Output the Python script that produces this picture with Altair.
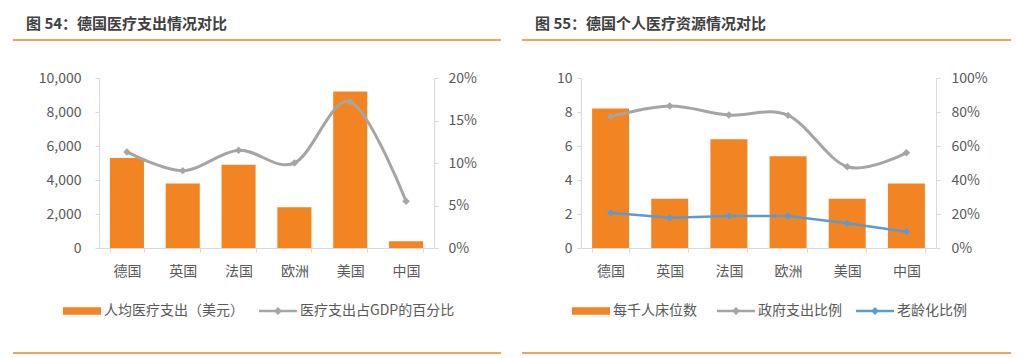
import altair as alt
import pandas as pd

FONT = "Noto Sans CJK SC"

# ---------------- data ----------------
categories = ["德国", "英国", "法国", "欧洲", "美国", "中国"]

# left panel
spend_per_capita = [5300, 3800, 4900, 2400, 9200, 400]
spend_gdp_pct = [0.113, 0.091, 0.115, 0.100, 0.172, 0.055]
left_title = "图 54：德国医疗支出情况对比"
left_bar_label = "人均医疗支出（美元）"
left_line_label = "医疗支出占GDP的百分比"
left_y_ticks = [0, 2000, 4000, 6000, 8000, 10000]
left_y2_ticks = [0, 0.05, 0.10, 0.15, 0.20]

# right panel
beds_per_1000 = [8.2, 2.9, 6.4, 5.4, 2.9, 3.8]
gov_share = [0.773, 0.835, 0.782, 0.78, 0.478, 0.56]
aging_share = [0.208, 0.178, 0.188, 0.188, 0.145, 0.096]
right_title = "图 55：德国个人医疗资源情况对比"
right_bar_label = "每千人床位数"
right_line_labels = ["政府支出比例", "老龄化比例"]
right_y_ticks = [0, 2, 4, 6, 8, 10]
right_y2_ticks = [0, 0.2, 0.4, 0.6, 0.8, 1.0]

# ---------------- style ----------------
ORANGE = "#F28522"
RULE_ORANGE = "#F08326"
GRAY = "#A5A5A5"
BLUE = "#5B9BD5"
AXIS_GRAY = "#D9D9D9"
TEXT_GRAY = "#595959"
TITLE_GRAY = "#404040"
BAR_SYMBOL = "M-1,-0.2H1V0.2H-1Z"
LINE_SYMBOL = "M-1,-0.07H1V0.07H-1Z M0,-0.21L0.21,0L0,0.21L-0.21,0Z"

H = 170


def x_axis():
    return alt.Axis(title=None, labelAngle=0, domainColor=AXIS_GRAY, tickColor=AXIS_GRAY,
                    tickSize=4, tickBand="extent", labelFont=FONT, labelFontSize=14,
                    labelColor=TEXT_GRAY, labelPadding=12)


def y_axis(values, fmt, orient, pad):
    return alt.Axis(title=None, values=values, format=fmt, orient=orient, grid=False,
                    domainColor=AXIS_GRAY, tickColor=AXIS_GRAY, tickSize=4,
                    labelFont=FONT, labelFontSize=14, labelColor=TEXT_GRAY, labelPadding=pad)


def legend(x, y, symbol, columns_pad=14):
    return alt.Legend(title=None, orient="none", legendX=x, legendY=y, direction="horizontal",
                      symbolType=symbol, symbolSize=1444, symbolStrokeWidth=0,
                      labelFont=FONT, labelFontSize=14, labelColor=TEXT_GRAY,
                      labelOffset=3, padding=0, columnPadding=columns_pad)


def frame_layers(title, x0, x1, title_dx):
    one = pd.DataFrame({"k": [0]})
    top = alt.Chart(one).mark_rule(color=RULE_ORANGE, strokeWidth=1.5).encode(
        x=alt.value(x0), x2=alt.value(x1), y=alt.value(-38))
    bottom = alt.Chart(one).mark_rule(color=RULE_ORANGE, strokeWidth=1.5).encode(
        x=alt.value(x0), x2=alt.value(x1), y=alt.value(275))
    ttl = alt.Chart(one).mark_text(text=title, align="left", baseline="middle", font=FONT,
                                   fontSize=15, fontWeight="bold", color=TITLE_GRAY).encode(
        x=alt.value(title_dx), y=alt.value(-54))
    return [top, bottom, ttl]


# ---------------- left panel ----------------
df_left = pd.DataFrame({"category": categories, "spend": spend_per_capita,
                        left_line_label: spend_gdp_pct})
base_l = alt.Chart(df_left)
xl = alt.X("category:N", sort=categories, axis=x_axis(),
           scale=alt.Scale(paddingInner=0.39, paddingOuter=0.195))

bars_l = base_l.transform_calculate(series=f"'{left_bar_label}'").mark_bar(color=ORANGE).encode(
    x=xl,
    y=alt.Y("spend:Q", scale=alt.Scale(domain=[0, 10000]),
            axis=y_axis(left_y_ticks, ",.0f", "left", 14)),
    color=alt.Color("series:N", scale=alt.Scale(domain=[left_bar_label], range=[ORANGE]),
                    legend=legend(-36, 214, BAR_SYMBOL)),
)
line_l = base_l.mark_line(color=GRAY, strokeWidth=3, interpolate="cardinal").encode(
    x=xl,
    y=alt.Y(f"{left_line_label}:Q", scale=alt.Scale(domain=[0, 0.2]),
            axis=y_axis(left_y2_ticks, ".0%", "right", 10)),
)
pts_l = base_l.transform_fold([left_line_label], as_=["series", "value"]).mark_point(
    shape="diamond", filled=True, size=55, opacity=1).encode(
    x=xl,
    y=alt.Y("value:Q", scale=alt.Scale(domain=[0, 0.2]), axis=None),
    color=alt.Color("series:N", scale=alt.Scale(domain=[left_line_label], range=[GRAY]),
                    legend=legend(160, 214, LINE_SYMBOL)),
)
left = alt.layer(*frame_layers(left_title, -86, 402, -73), bars_l, line_l, pts_l).resolve_scale(
    y="independent", color="independent").properties(width=335, height=H)

# ---------------- right panel ----------------
df_right = pd.DataFrame({"category": categories, "beds": beds_per_1000,
                         right_line_labels[0]: gov_share, right_line_labels[1]: aging_share})
base_r = alt.Chart(df_right)
xr = alt.X("category:N", sort=categories, axis=x_axis(),
           scale=alt.Scale(paddingInner=0.375, paddingOuter=0.1875))

bars_r = base_r.transform_calculate(series=f"'{right_bar_label}'").mark_bar(color=ORANGE).encode(
    x=xr,
    y=alt.Y("beds:Q", scale=alt.Scale(domain=[0, 10]),
            axis=y_axis(right_y_ticks, "d", "left", 5)),
    color=alt.Color("series:N", scale=alt.Scale(domain=[right_bar_label], range=[ORANGE]),
                    legend=legend(-9, 214, BAR_SYMBOL)),
)
line_gov = base_r.mark_line(color=GRAY, strokeWidth=3, interpolate="cardinal").encode(
    x=xr,
    y=alt.Y(f"{right_line_labels[0]}:Q", scale=alt.Scale(domain=[0, 1]),
            axis=y_axis(right_y2_ticks, ".0%", "right", 11)),
)
line_age = base_r.mark_line(color=BLUE, strokeWidth=2.5).encode(
    x=xr,
    y=alt.Y(f"{right_line_labels[1]}:Q", scale=alt.Scale(domain=[0, 1]), axis=None),
)
pts_r = base_r.transform_fold(right_line_labels, as_=["series", "value"]).mark_point(
    shape="diamond", filled=True, size=55, opacity=1).encode(
    x=xr,
    y=alt.Y("value:Q", scale=alt.Scale(domain=[0, 1]), axis=None),
    color=alt.Color("series:N", scale=alt.Scale(domain=right_line_labels, range=[GRAY, BLUE]),
                    legend=legend(136, 214, LINE_SYMBOL, 14)),
)
right = alt.layer(*frame_layers(right_title, -59, 430, -46), bars_r, line_gov, line_age,
                  pts_r).resolve_scale(y="independent", color="independent").properties(
    width=355, height=H)

chart = alt.hconcat(left, right, spacing=19).properties(
    padding={"left": 4, "top": 9, "right": 0, "bottom": 0}
).configure_view(stroke=None)

chart.save("out.html", embed_options={"renderer": "svg", "actions": False})
